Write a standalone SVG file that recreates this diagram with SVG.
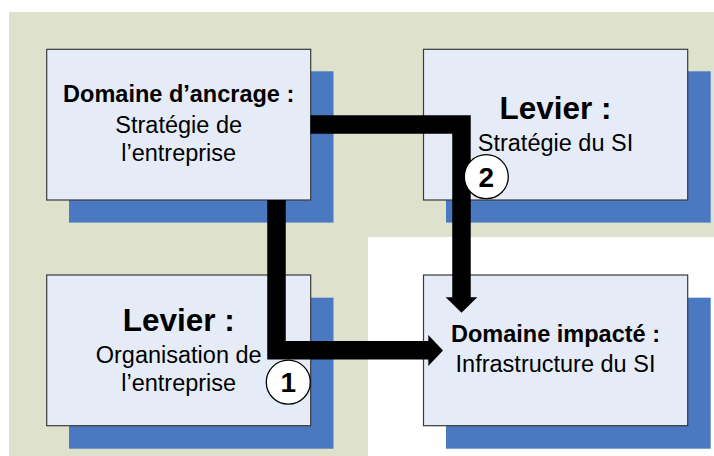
<svg xmlns="http://www.w3.org/2000/svg" width="714" height="456" viewBox="0 0 714 456">
  <defs>
    <style>
      .shadow { fill: #4A79C1; }
      .box { fill: #E6ECF7; stroke: #3A3A3A; stroke-width: 1.2; }
      .t { font-family: "Liberation Sans", Arial, sans-serif; font-size: 23.5px; fill: #000; text-anchor: middle; }
      .b { font-weight: bold; }
      .big { font-family: "Liberation Sans", Arial, sans-serif; font-size: 31.5px; font-weight: bold; fill: #000; text-anchor: middle; }
      .conn { fill: none; stroke: #000; stroke-width: 18.5; stroke-linejoin: miter; stroke-linecap: butt; }
      .head { fill: #000; }
      .badge { fill: #fff; stroke: #000; stroke-width: 1.3; }
      .num { font-family: "Liberation Sans", Arial, sans-serif; font-size: 28px; font-weight: bold; fill: #000; text-anchor: middle; }
    </style>
  </defs>
  <rect width="714" height="456" fill="#FFFFFF"/>
  <path d="M9,12 H714 V237 H368 V456 H9 Z" fill="#DEE1CC"/>

  <g id="node-ancrage">
    <rect class="shadow" x="69" y="71.3" width="264.5" height="151.3"/>
    <rect class="box" x="46.7" y="49.3" width="264" height="150.7"/>
    <text class="t b" x="178.7" y="101.7">Domaine d’ancrage :</text>
    <text class="t" x="178.7" y="132.7">Stratégie de</text>
    <text class="t" x="178.7" y="160.7">l’entreprise</text>
  </g>

  <g id="node-strategie-si">
    <rect class="shadow" x="446" y="71.3" width="264.7" height="151.3"/>
    <rect class="box" x="423.5" y="49.3" width="264.2" height="150.7"/>
    <text class="big" x="555.5" y="119.3">Levier :</text>
    <text class="t" x="555.5" y="150.5">Stratégie du SI</text>
  </g>

  <g id="node-organisation">
    <rect class="shadow" x="69" y="297.7" width="264.5" height="151"/>
    <rect class="box" x="46.7" y="275" width="264" height="150.7"/>
    <text class="big" x="178.7" y="330.7">Levier :</text>
    <text class="t" x="178.7" y="363.3">Organisation de</text>
    <text class="t" x="178.7" y="390.7">l’entreprise</text>
  </g>

  <g id="node-impacte">
    <rect class="shadow" x="446" y="297.7" width="264.7" height="151"/>
    <rect class="box" x="423.5" y="275" width="264.2" height="150.7"/>
    <text class="t b" x="555.5" y="342.3">Domaine impacté :</text>
    <text class="t" x="555.5" y="371.7">Infrastructure du SI</text>
  </g>

  <g id="connectors">
    <path class="conn" d="M276.5,200 V350.2 H429"/>
    <polygon class="head" points="428.3,335 443,350.5 428.3,366"/>
    <path class="conn" d="M310.5,124.5 H461.5 V298"/>
    <polygon class="head" points="445.7,297.3 477.3,297.3 461.5,312.8"/>
  </g>

  <g id="badge-1">
    <circle class="badge" cx="288.3" cy="382.2" r="22"/>
    <text class="num" x="288.3" y="392.3">1</text>
  </g>
  <g id="badge-2">
    <circle class="badge" cx="486.3" cy="176.7" r="22"/>
    <text class="num" x="486.3" y="186.8">2</text>
  </g>
</svg>
